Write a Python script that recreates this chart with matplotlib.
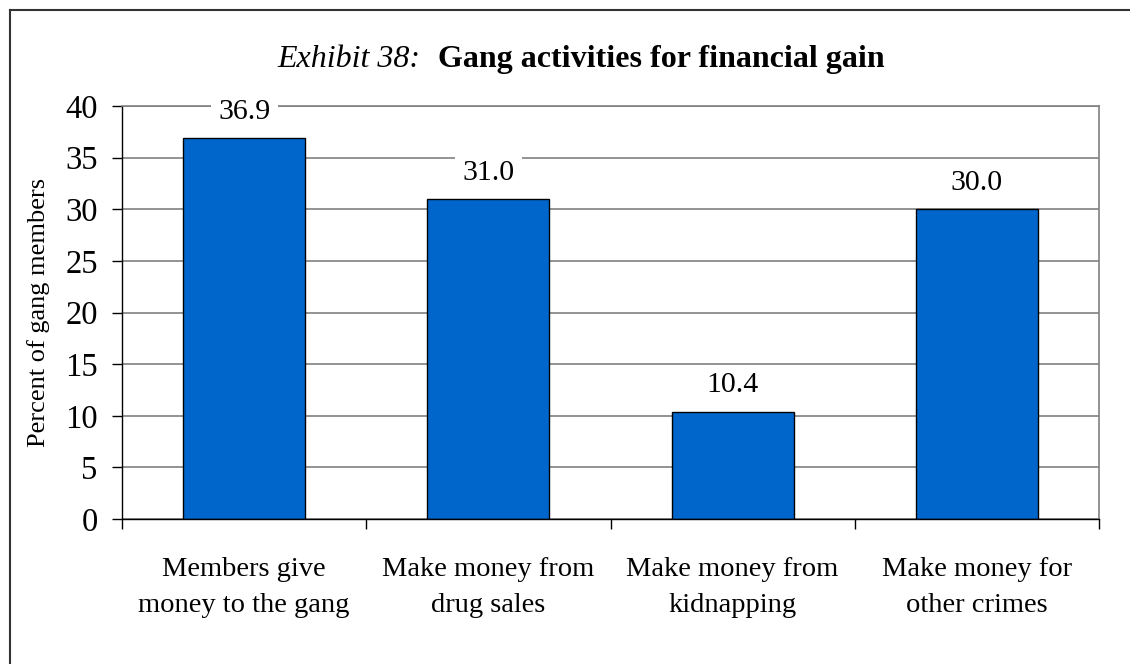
import numpy as np
import matplotlib.pyplot as plt
from matplotlib.lines import Line2D

categories = ['Members give\nmoney to the gang', 'Make money from\ndrug sales',
              'Make money from\nkidnapping', 'Make money for\nother crimes']
percent = [36.9, 31.0, 10.4, 30.0]

plt.rcParams['font.family'] = 'Liberation Serif'

W, H = 1130, 664
fig = plt.figure(figsize=(W / 100, H / 100), dpi=100)
ax = fig.add_axes([122 / W, (H - 519) / H, (1099 - 122) / W, (519 - 106) / H])

x = np.arange(len(categories))
bars = ax.bar(x, percent, width=0.5, color='#0066CC', edgecolor='black', linewidth=1, zorder=2)

ax.set_xlim(-0.5, len(categories) - 0.5)
ax.set_ylim(0, 40)
ax.set_yticks(np.arange(0, 41, 5))
ax.yaxis.grid(True, color='#808080', linewidth=1.2)
ax.set_axisbelow(True)

# category labels at bar centres, tick marks at the boundaries
ax.set_xticks(x)
ax.set_xticklabels(categories, fontsize=20.5, linespacing=1.6)
ax.tick_params(axis='x', which='major', length=0, pad=27)
ax.set_xticks(np.arange(-0.5, len(categories)), minor=True)
ax.tick_params(axis='x', which='minor', length=7, width=1, direction='out')
ax.tick_params(axis='y', labelsize=23.5, length=7.5, width=1, pad=10)

for s in ['top', 'right']:
    ax.spines[s].set_color('#808080')
    ax.spines[s].set_linewidth(1.2)
for s in ['left', 'bottom']:
    ax.spines[s].set_linewidth(1)

ax.set_ylabel('Percent of gang members', fontsize=19, labelpad=11)

for b, v in zip(bars, percent):
    ax.annotate(f'{v:.1f}', (b.get_x() + b.get_width() / 2, v), xytext=(0, 19),
                textcoords='offset points', ha='center', va='center', fontsize=21.5,
                bbox=dict(boxstyle='square,pad=0.25', facecolor='white', edgecolor='none'),
                zorder=5)

# title: italic exhibit number followed by bold caption
fig.text(420 / W, (H - 67) / H, 'Exhibit 38:', style='italic', fontsize=23,
         ha='right', va='baseline')
fig.text(438 / W, (H - 67) / H, 'Gang activities for financial gain', weight='bold',
         fontsize=23, ha='left', va='baseline')

# outer frame
fig.add_artist(Line2D([9.5 / W, 9.5 / W], [0, (H - 10) / H], color='#333333', lw=1.5))
fig.add_artist(Line2D([9.5 / W, 1], [(H - 10) / H, (H - 10) / H], color='#333333', lw=1.5))

fig.savefig('out.png', dpi=100)
